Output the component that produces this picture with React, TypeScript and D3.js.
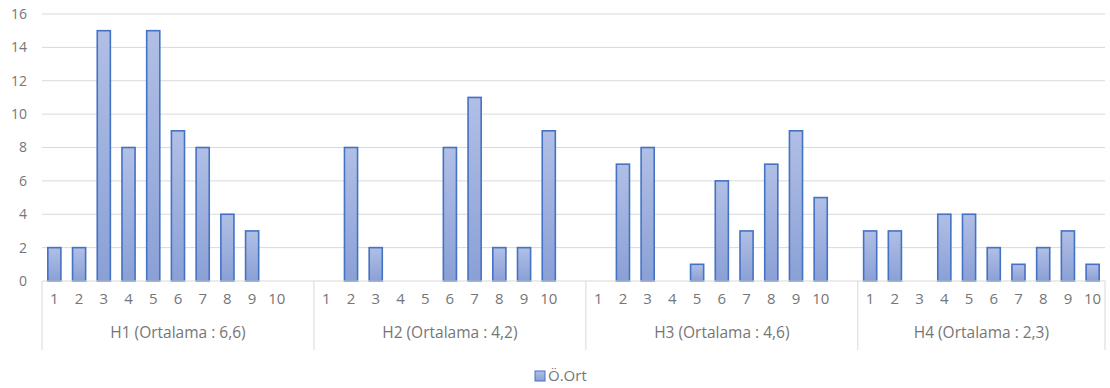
import React from "react";
import * as d3 from "d3";

const groups = ["H1 (Ortalama : 6,6)", "H2 (Ortalama : 4,2)", "H3 (Ortalama : 4,6)", "H4 (Ortalama : 2,3)"];
const categories = ["1", "2", "3", "4", "5", "6", "7", "8", "9", "10"];
const h1Values = [2, 2, 15, 8, 15, 9, 8, 4, 3, 0];
const h2Values = [0, 8, 2, 0, 0, 8, 11, 2, 2, 9];
const h3Values = [0, 7, 8, 0, 1, 6, 3, 7, 9, 5];
const h4Values = [3, 3, 0, 4, 4, 2, 1, 2, 3, 1];
const yTicks = [0, 2, 4, 6, 8, 10, 12, 14, 16];
const seriesName = "Ö.Ort";

const seriesValues = [h1Values, h2Values, h3Values, h4Values];

type Slot = { key: string; group: number; cat: string; value: number | null };

// Each group gets its ten categories plus an empty spacer slot (except the last group)
const slots: Slot[] = [];
groups.forEach((_, gi) => {
  categories.forEach((c, ci) => {
    slots.push({ key: `${gi}-${c}`, group: gi, cat: c, value: seriesValues[gi][ci] });
  });
  if (gi < groups.length - 1) slots.push({ key: `${gi}-gap`, group: gi, cat: "", value: null });
});

const W = 1110;
const H = 388;
const left = 42;
const right = 1105;
const top = 14;
const bottom = 281;

const font = "'Open Sans', sans-serif";
const textColor = "#767676";
const gridColor = "#d9d9d9";

export default function App() {
  const x = d3.scaleBand<string>().domain(slots.map((s) => s.key)).range([left, right]).paddingInner(0).paddingOuter(0);
  const y = d3.scaleLinear().domain([0, 16]).range([bottom, top]);
  const bw = x.bandwidth() * 0.53;

  const groupBounds = groups.map((_, gi) => {
    const keys = slots.filter((s) => s.group === gi).map((s) => s.key);
    const x0 = x(keys[0])!;
    const x1 = x(keys[keys.length - 1])! + x.bandwidth();
    return { x0, x1 };
  });

  return (
    <svg width={W} height={H} style={{ position: "absolute", left: 0, top: 0, background: "#fff" }}>
      <defs>
        <linearGradient id="barFill" x1="0" y1="0" x2="0" y2="1">
          <stop offset="0%" stopColor="#b1bfe5" />
          <stop offset="100%" stopColor="#8aa0d6" />
        </linearGradient>
      </defs>
      {yTicks.map((t) => (
        <g key={t}>
          {t > 0 && <line x1={left} x2={right} y1={y(t)} y2={y(t)} stroke={gridColor} strokeWidth={1} />}
          <text x={27} y={y(t)} dy="0.35em" textAnchor="end" fontFamily={font} fontSize={14} fill={textColor}>
            {t}
          </text>
        </g>
      ))}
      {slots
        .filter((s) => s.value !== null && s.value > 0)
        .map((s) => {
          const cx = x(s.key)! + x.bandwidth() / 2;
          return (
            <rect
              key={s.key}
              x={cx - bw / 2}
              y={y(s.value!)}
              width={bw}
              height={y(0) - y(s.value!)}
              fill="url(#barFill)"
              stroke="#4472c4"
              strokeWidth={1.6}
            />
          );
        })}
      <line x1={left} x2={right} y1={bottom} y2={bottom} stroke={gridColor} strokeWidth={1} />
      {groupBounds.map((b, gi) => (
        <g key={gi}>
          <line x1={b.x0} x2={b.x0} y1={bottom} y2={350} stroke={gridColor} strokeWidth={1} />
          {gi === groups.length - 1 && (
            <line x1={b.x1} x2={b.x1} y1={bottom} y2={350} stroke={gridColor} strokeWidth={1} />
          )}
          <text x={(b.x0 + b.x1) / 2} y={333} dy="0.35em" textAnchor="middle" fontFamily={font} fontSize={15.5} fill={textColor}>
            {groups[gi]}
          </text>
        </g>
      ))}
      {slots
        .filter((s) => s.cat !== "")
        .map((s) => (
          <text
            key={`l-${s.key}`}
            x={x(s.key)! + x.bandwidth() / 2}
            y={299}
            dy="0.35em"
            textAnchor="middle"
            fontFamily={font}
            fontSize={15}
            fill={textColor}
          >
            {s.cat}
          </text>
        ))}
      <g transform="translate(535,376)">
        <rect x={0} y={-5} width={10} height={10} fill="url(#barFill)" stroke="#4472c4" strokeWidth={1} />
        <text x={13} y={0} dy="0.35em" fontFamily={font} fontSize={15} fill={textColor}>
          {seriesName}
        </text>
      </g>
    </svg>
  );
}
